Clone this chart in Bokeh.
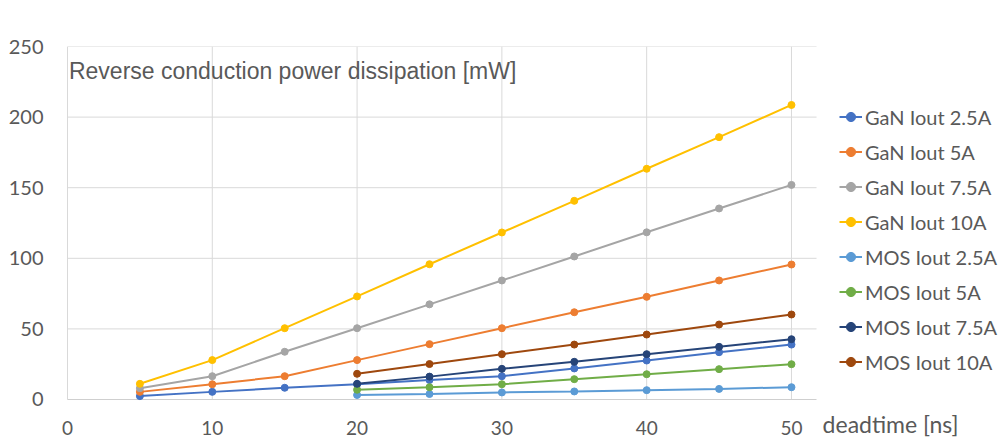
from bokeh.plotting import figure
from bokeh.models import Legend, LegendItem, Label, Range1d, FixedTicker
from bokeh.core.properties import value
from bokeh.embed import file_html
from bokeh.resources import INLINE

deadtime_gan = [5, 10, 15, 20, 25, 30, 35, 40, 45, 50]
gan_2p5 = [2.4, 5.4, 8.3, 10.8, 13.8, 16.5, 22.0, 27.6, 33.5, 38.9]
gan_5 = [5.4, 10.8, 16.5, 27.9, 39.2, 50.5, 61.8, 72.7, 84.3, 95.6]
gan_7p5 = [8.0, 16.5, 33.8, 50.5, 67.4, 84.3, 101.3, 118.4, 135.3, 152.0]
gan_10 = [11.1, 27.9, 50.5, 73.0, 95.8, 118.3, 140.7, 163.4, 185.8, 208.6]

deadtime_mos = [20, 25, 30, 35, 40, 45, 50]
mos_2p5 = [3.2, 3.9, 5.0, 5.7, 6.6, 7.5, 8.7]
mos_5 = [6.9, 8.7, 10.8, 14.4, 17.9, 21.5, 25.0]
mos_7p5 = [11.1, 16.2, 21.7, 26.7, 32.1, 37.3, 42.7]
mos_10 = [18.2, 25.1, 32.1, 38.9, 46.0, 53.1, 60.2]

series_names = ["GaN Iout 2.5A", "GaN Iout 5A", "GaN Iout 7.5A", "GaN Iout 10A",
                "MOS Iout 2.5A", "MOS Iout 5A", "MOS Iout 7.5A", "MOS Iout 10A"]
series_x = [deadtime_gan] * 4 + [deadtime_mos] * 4
series_y = [gan_2p5, gan_5, gan_7p5, gan_10, mos_2p5, mos_5, mos_7p5, mos_10]
colors = ["#4472C4", "#ED7D31", "#A5A5A5", "#FFC000",
          "#5B9BD5", "#70AD47", "#264478", "#9E480E"]

x_ticks = [0, 10, 20, 30, 40, 50]
x_tick_labels = ["0", "10", "20", "30", "40", "50"]
y_ticks = [0, 50, 100, 150, 200, 250]

TXT = "#595959"
GRID = "#d9d9d9"
FONT = "Lato"

# plotting area of the chart proper (data units)
X_AXIS_END = 51.73
Y_MAX = 250

p = figure(width=1006, height=439, output_backend="svg", toolbar_location=None,
           x_range=Range1d(-0.8287, 64.85), y_range=Range1d(-28.33, Y_MAX),
           min_border_left=55, min_border_right=0, min_border_top=46,
           min_border_bottom=0)
p.outline_line_color = None
p.background_fill_color = "white"

# y axis (real)
yax = p.yaxis[0]
yax.ticker = FixedTicker(ticks=y_ticks)
yax.major_tick_line_color = None
yax.minor_tick_line_color = None
yax.axis_line_color = None
yax.major_label_text_font = FONT
yax.major_label_text_font_size = "20px"
yax.major_label_text_color = TXT
yax.major_label_standoff = 6

# x axis drawn inside the extended frame
p.xaxis.visible = False
p.xgrid.visible = False
p.ygrid.visible = False

p.segment(x0=[0] * len(y_ticks[1:]), x1=[X_AXIS_END] * len(y_ticks[1:]),
          y0=y_ticks[1:], y1=y_ticks[1:], line_color=GRID, line_width=1)
p.segment(x0=x_ticks, x1=x_ticks, y0=[0] * len(x_ticks), y1=[Y_MAX] * len(x_ticks),
          line_color=GRID, line_width=1)
p.segment(x0=[0], x1=[X_AXIS_END], y0=[0], y1=[0], line_color="#cfcfcf", line_width=1)
p.text(x=x_ticks, y=[-20.5] * len(x_ticks), text=x_tick_labels,
       text_font=value(FONT), text_font_size="19px", text_color=TXT,
       text_align="center", text_baseline="middle")

items = []
for name, xs, ys, c in zip(series_names, series_x, series_y, colors):
    ln = p.line(xs, ys, line_color=c, line_width=2)
    sc = p.scatter(xs, ys, size=7, fill_color=c, line_color=c)
    items.append(LegendItem(label=name, renderers=[ln, sc]))

legend = Legend(items=items, location=(784, 65), orientation="vertical",
                label_text_font=FONT, label_text_font_size="20px",
                label_text_color=TXT, glyph_width=23, glyph_height=25,
                label_height=25, spacing=10, padding=0, margin=0,
                label_standoff=3, border_line_color=None,
                background_fill_alpha=0)
p.add_layout(legend, "center")

p.add_layout(Label(x=0.1, y=232.3, text="Reverse conduction power dissipation [mW]",
                   text_font="Liberation Sans", text_font_size="23px",
                   text_color=TXT, text_baseline="middle"))
p.add_layout(Label(x=52.15, y=-17.7, text="deadtime [ns]",
                   text_font=FONT, text_font_size="23px",
                   text_color=TXT, text_baseline="middle"))

open("out.html", "w").write(file_html(p, INLINE))
